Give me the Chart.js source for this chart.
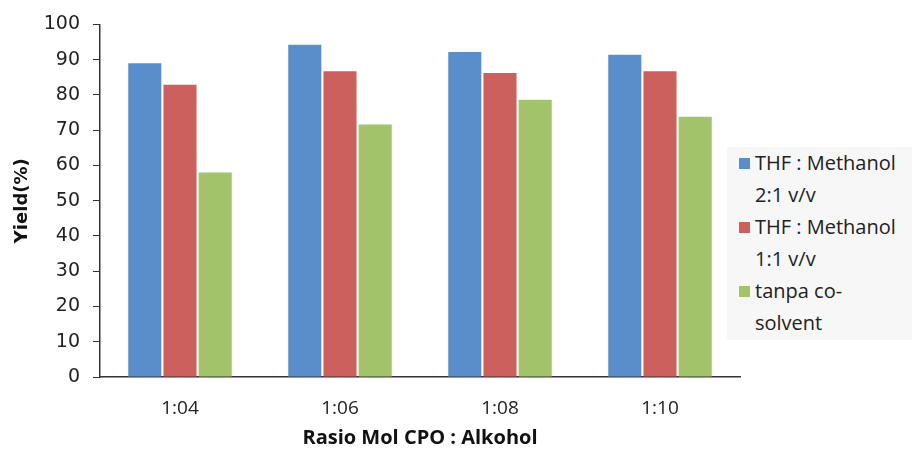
<!DOCTYPE html>
<html>
<head>
<meta charset="utf-8">
<script src="https://cdn.jsdelivr.net/npm/chart.js@4"></script>
<style>
  html, body { margin: 0; padding: 0; background: #fff; }
  #wrap { position: relative; width: 912px; height: 454px; }
  #legend {
    position: absolute; left: 727px; top: 147px; width: 185px; height: 193px;
    background: #f7f7f7; box-sizing: border-box; padding: 0 0 0 12px;
    font-family: "Open Sans", sans-serif; font-size: 20px; line-height: 32px; color: #222;
    overflow: hidden; white-space: nowrap;
  }
  .item { position: relative; padding-left: 16px; }
  .box { position: absolute; left: 0; top: 11px; width: 11px; height: 11px; }
</style>
</head>
<body>
<div id="wrap">
  <canvas id="yieldChart" width="912" height="454"></canvas>
  <div id="legend"></div>
</div>
<script>
const categories = ["1:04", "1:06", "1:08", "1:10"];
const seriesNames = [["THF : Methanol", "2:1 v/v"], ["THF : Methanol", "1:1 v/v"], ["tanpa co-", "solvent"]];
const thf21 = [89.0, 94.2, 92.2, 91.4];
const thf11 = [82.9, 86.7, 86.2, 86.7];
const noCosolvent = [58.0, 71.6, 78.6, 73.8];
const yTicks = [0, 10, 20, 30, 40, 50, 60, 70, 80, 90, 100];
const colors = ["#5a8ecb", "#cc605d", "#a2c36a"];

document.addEventListener("DOMContentLoaded", () => {
  const ctx = document.getElementById("yieldChart").getContext("2d");
  const values = [thf21, thf11, noCosolvent];

  new Chart(ctx, {
    type: "bar",
    data: {
      labels: categories,
      datasets: values.map((v, i) => ({
        label: seriesNames[i].join(" "),
        data: v,
        backgroundColor: colors[i],
        categoryPercentage: 0.66,
        barPercentage: 0.94,
      })),
    },
    options: {
      responsive: false,
      animation: false,
      layout: { padding: { top: 24, right: 172, left: 0, bottom: 0 } },
      plugins: { legend: { display: false }, tooltip: { enabled: false } },
      scales: {
        x: {
          grid: { display: false, drawTicks: false },
          border: { display: true, color: "#333", width: 1.5 },
          ticks: { padding: 20, color: "#222", font: { family: "Open Sans", size: 19 } },
          title: {
            display: true, text: "Rasio Mol CPO : Alkohol", color: "#111",
            font: { family: "Open Sans", size: 20, weight: "bold" }, padding: { top: 4 },
          },
          afterFit: (s) => { s.height = 77; },
        },
        y: {
          min: 0, max: 100,
          afterBuildTicks: (s) => { s.ticks = yTicks.map((v) => ({ value: v })); },
          grid: { drawOnChartArea: false, drawTicks: true, tickLength: 7, color: "#333" },
          border: { display: true, color: "#333", width: 1.5 },
          ticks: { padding: 13, color: "#222", font: { family: "DejaVu Sans", size: 19 } },
          title: {
            display: true, text: "Yield(%)", color: "#111",
            font: { family: "DejaVu Sans", size: 18, weight: "bold" }, padding: { top: 12, bottom: 2 },
          },
          afterFit: (s) => { s.width = 100; },
        },
      },
    },
  });

  // legend with two-line labels, like the original
  const legend = document.getElementById("legend");
  seriesNames.forEach((lines, i) => {
    const item = document.createElement("div");
    item.className = "item";
    item.innerHTML = '<span class="box" style="background:' + colors[i] + '"></span>' + lines.join("<br>");
    legend.appendChild(item);
  });
});
</script>
</body>
</html>
